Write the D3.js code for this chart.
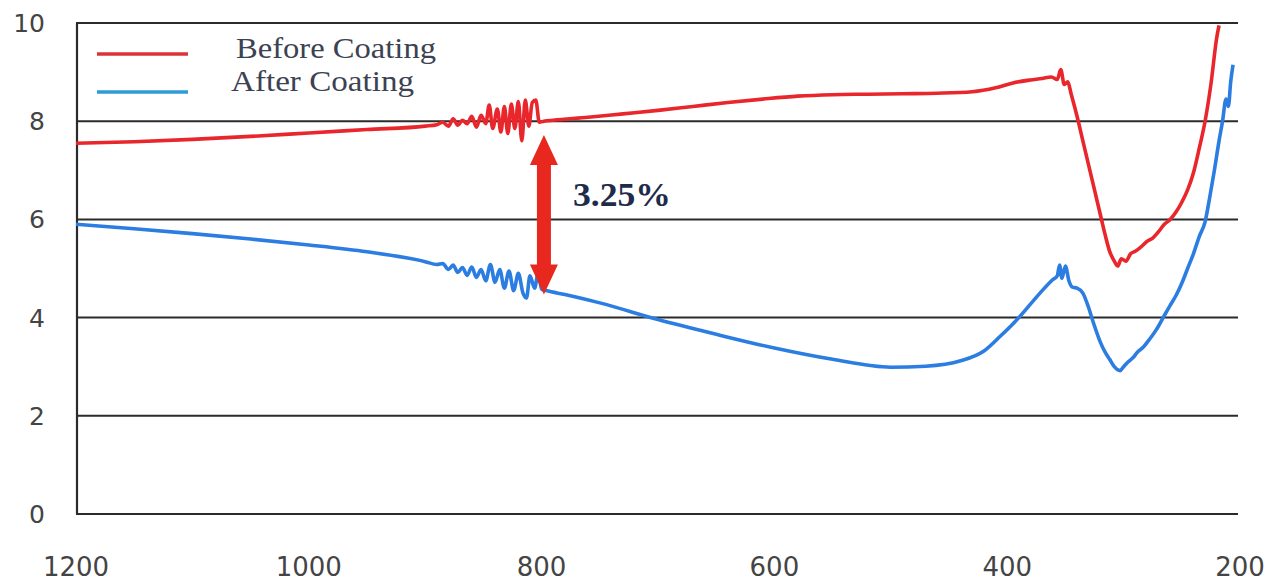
<!DOCTYPE html>
<html>
<head>
<meta charset="utf-8">
<script src="https://cdn.jsdelivr.net/npm/d3@7"></script>
<style>
  html, body { margin: 0; padding: 0; background: #fff; }
  svg { display: block; }
</style>
</head>
<body>
<svg id="chart" width="1281" height="581"></svg>
<script>
// Reflectance spectra (%) vs wavelength (nm), before and after coating
const xTicks = [1200, 1000, 800, 600, 400, 200];
const yTicks = [0, 2, 4, 6, 8, 10];
const seriesNames = ["Before Coating", "After Coating"];

const beforeWavelength = [
  1200, 1150, 1100, 1050, 1000, 950, 900, 890, 885, 880, 876, 872, 868, 864, 860, 856,
  852, 848, 845, 842, 838, 835, 832, 829, 826, 823, 820, 817, 814, 811, 808, 805, 802,
  798, 790, 760, 730, 700, 670, 640, 610, 580, 550, 520, 490, 460, 430, 410, 395, 380,
  370, 362, 357, 354, 351, 348, 345, 340, 335, 330, 325, 320, 316, 312, 308, 305, 302,
  298, 294, 290, 286, 280, 275, 270, 265, 260, 255, 250, 245, 240, 235, 230, 225, 220, 218
];
const beforeValue = [
  7.55, 7.58, 7.63, 7.69, 7.76, 7.83, 7.90, 7.93, 7.98, 7.90, 8.05, 7.92, 8.02, 7.95, 8.10, 7.88,
  8.12, 7.95, 8.33, 7.85, 8.25, 7.78, 8.30, 7.75, 8.35, 7.85, 8.40, 7.60, 8.43, 7.90, 8.38, 8.43, 7.98,
  8.00, 8.02, 8.08, 8.15, 8.22, 8.30, 8.38, 8.45, 8.51, 8.54, 8.55, 8.56, 8.57, 8.60, 8.68, 8.78, 8.84,
  8.87, 8.90, 8.85, 9.05, 8.75, 8.80, 8.55, 8.10, 7.60, 7.10, 6.60, 6.10, 5.70, 5.35, 5.15, 5.05, 5.20,
  5.15, 5.30, 5.35, 5.42, 5.55, 5.62, 5.75, 5.90, 6.00, 6.15, 6.35, 6.60, 6.95, 7.45, 8.00, 8.75, 9.70, 9.95
];

const afterWavelength = [
  1200, 1150, 1100, 1050, 1000, 950, 900, 890, 885, 880, 876, 872, 868, 864, 860, 856,
  852, 848, 844, 840, 836, 832, 828, 824, 820, 816, 813, 810, 806, 803, 800, 796, 780,
  750, 700, 650, 600, 550, 500, 470, 440, 420, 406, 390, 378, 368, 361, 357, 355, 353,
  350, 347, 344, 340, 335, 330, 326, 320, 316, 312, 308, 303, 300, 296, 292, 288, 283,
  278, 272, 266, 260, 255, 250, 245, 240, 235, 230, 226, 222, 218, 215, 212, 210, 208, 206
];
const afterValue = [
  5.90, 5.81, 5.71, 5.60, 5.48, 5.34, 5.14, 5.08, 5.10, 4.98, 5.07, 4.92, 5.02, 4.86, 5.03, 4.82,
  4.98, 4.75, 5.08, 4.72, 4.98, 4.60, 4.95, 4.55, 4.90, 4.50, 4.40, 4.85, 4.60, 4.90, 4.58, 4.55, 4.47,
  4.30, 3.96, 3.66, 3.38, 3.15, 2.99, 3.01, 3.12, 3.32, 3.62, 4.00, 4.33, 4.60, 4.77, 4.85, 5.07, 4.80,
  5.05, 4.75, 4.62, 4.60, 4.50, 4.20, 3.90, 3.50, 3.30, 3.15, 3.00, 2.92, 3.00, 3.10, 3.18, 3.30, 3.40,
  3.55, 3.75, 4.00, 4.25, 4.45, 4.70, 5.00, 5.30, 5.65, 5.95, 6.45, 7.00, 7.60, 8.00, 8.45, 8.30, 8.80, 9.15
];

// Annotated gap at 800 nm
const gapWavelength = 798;
const gapTop = 7.72;
const gapBottom = 4.47;
const gapLabel = "3.25%";

const svg = d3.select("#chart");

const x = d3.scaleLinear().domain([1200, 200]).range([76, 1240]);
const y = d3.scaleLinear().domain([0, 10]).range([514, 23]);
const gridRight = 1238;

// Horizontal grid lines
svg.append("g")
  .selectAll("line")
  .data(yTicks)
  .join("line")
  .attr("x1", x(1200))
  .attr("x2", gridRight)
  .attr("y1", d => y(d))
  .attr("y2", d => y(d))
  .attr("stroke", "#2b2b2b")
  .attr("stroke-width", 2);

// Left axis line
svg.append("line")
  .attr("x1", x(1200) + 1).attr("x2", x(1200) + 1)
  .attr("y1", y(10)).attr("y2", y(0))
  .attr("stroke", "#2b2b2b")
  .attr("stroke-width", 2.2);

// Y axis labels
svg.append("g")
  .selectAll("text")
  .data(yTicks)
  .join("text")
  .attr("x", 45)
  .attr("y", d => y(d) + 9)
  .attr("text-anchor", "end")
  .attr("font-family", "DejaVu Sans, sans-serif")
  .attr("font-size", 25)
  .attr("fill", "#444")
  .text(d => d);

// X axis labels
svg.append("g")
  .selectAll("text")
  .data(xTicks)
  .join("text")
  .attr("x", d => x(d))
  .attr("y", 576)
  .attr("text-anchor", "middle")
  .attr("font-family", "DejaVu Sans, sans-serif")
  .attr("font-size", 26)
  .attr("fill", "#444")
  .text(d => d);

const line = d3.line()
  .x(d => x(d[0]))
  .y(d => y(d[1]))
  .curve(d3.curveMonotoneX);

const before = beforeWavelength.map((w, i) => [w, beforeValue[i]]);
const after = afterWavelength.map((w, i) => [w, afterValue[i]]);

svg.append("path")
  .datum(after)
  .attr("d", line)
  .attr("fill", "none")
  .attr("stroke", "#2c7de2")
  .attr("stroke-width", 3.6)
  .attr("stroke-linejoin", "round");

svg.append("path")
  .datum(before)
  .attr("d", line)
  .attr("fill", "none")
  .attr("stroke", "#e8262b")
  .attr("stroke-width", 3.6)
  .attr("stroke-linejoin", "round");

// Double-headed arrow marking the gap
const ax = x(gapWavelength);
const yt = y(gapTop), yb = y(gapBottom);
const shaft = 7, head = 14, headLen = 30;
const arrowPath = d3.path();
arrowPath.moveTo(ax, yt);
arrowPath.lineTo(ax + head, yt + headLen);
arrowPath.lineTo(ax + shaft, yt + headLen);
arrowPath.lineTo(ax + shaft, yb - headLen);
arrowPath.lineTo(ax + head, yb - headLen);
arrowPath.lineTo(ax, yb);
arrowPath.lineTo(ax - head, yb - headLen);
arrowPath.lineTo(ax - shaft, yb - headLen);
arrowPath.lineTo(ax - shaft, yt + headLen);
arrowPath.lineTo(ax - head, yt + headLen);
arrowPath.closePath();
svg.append("path")
  .attr("d", arrowPath.toString())
  .attr("fill", "#e8281f");

svg.append("text")
  .attr("x", 573)
  .attr("y", 206)
  .attr("font-family", "Liberation Serif, Times New Roman, serif")
  .attr("font-weight", "bold")
  .attr("font-size", 33)
  .attr("fill", "#1f2b4b")
  .attr("textLength", 98)
  .attr("lengthAdjust", "spacingAndGlyphs")
  .text(gapLabel);

// Legend
const legendColors = ["#dc3238", "#2f9ad6"];
const legendY = [54, 92];
const legendTextX = [236, 231];
const legendTextY = [58, 91];
const legendTextLen = [200, 183];
const legend = svg.append("g");
seriesNames.forEach((name, i) => {
  legend.append("line")
    .attr("x1", 97).attr("x2", 188)
    .attr("y1", legendY[i]).attr("y2", legendY[i])
    .attr("stroke", legendColors[i])
    .attr("stroke-width", 3.5);
  legend.append("text")
    .attr("x", legendTextX[i])
    .attr("y", legendTextY[i])
    .attr("font-family", "Liberation Serif, Times New Roman, serif")
    .attr("font-size", 30)
    .attr("fill", "#3c4252")
    .attr("textLength", legendTextLen[i])
    .attr("lengthAdjust", "spacingAndGlyphs")
    .text(name);
});
</script>
</body>
</html>
